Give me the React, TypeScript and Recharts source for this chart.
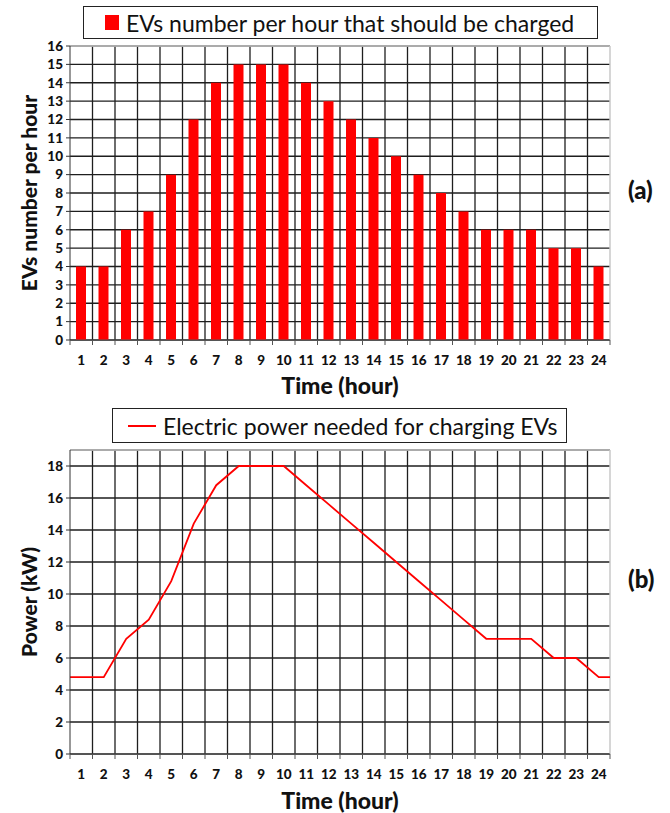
import React from "react";
import {
  BarChart,
  Bar,
  LineChart,
  Line,
  XAxis,
  YAxis,
  CartesianGrid,
  ReferenceLine,
} from "recharts";

// hour of the day (category axis)
const hours = [
  1, 2, 3, 4, 5, 6, 7, 8, 9, 10, 11, 12, 13, 14, 15, 16, 17, 18, 19, 20, 21,
  22, 23, 24,
];
// (a) EVs to be charged per hour
const evCount = [
  4, 4, 6, 7, 9, 12, 14, 15, 15, 15, 14, 13, 12, 11, 10, 9, 8, 7, 6, 6, 6, 5,
  5, 4,
];
// (b) power line, runs edge to edge of the plot
const powerHours = [
  0.5, 1, 2, 3, 4, 5, 6, 7, 8, 9, 10, 11, 12, 13, 14, 15, 16, 17, 18, 19, 20,
  21, 22, 23, 24, 24.5,
];
const powerKW = [
  4.8, 4.8, 4.8, 7.2, 8.4, 10.8, 14.4, 16.8, 18, 18, 18, 16.8, 15.6, 14.4,
  13.2, 12, 10.8, 9.6, 8.4, 7.2, 7.2, 7.2, 6, 6, 4.8, 4.8,
];
const evTicks = [0, 1, 2, 3, 4, 5, 6, 7, 8, 9, 10, 11, 12, 13, 14, 15, 16];
const powerTicks = [0, 2, 4, 6, 8, 10, 12, 14, 16, 18];

const FONT = "Lato, 'Liberation Sans', sans-serif";
const GRID = "#1e1e1e";
const EDGE = "#c8c8c8";

const evRows = hours.map((h, i) => ({ hour: h, ev: evCount[i] }));
const powerRows = powerHours.map((h, i) => ({ hour: h, kw: powerKW[i] }));

// labels on whole hours, tick marks on the boundaries between hours
const xTicks = hours.flatMap((h) => [h - 0.5, h]).concat(hours[hours.length - 1] + 0.5);
const boundaries = hours.slice(0, -1).map((h) => h + 0.5);

const HourTick = (props: any) => {
  const { x, y, payload } = props;
  const v = payload.value;
  if (Number.isInteger(v)) {
    return (
      <text
        x={x}
        y={y + 25}
        textAnchor="middle"
        fontFamily={FONT}
        fontWeight={900}
        fontSize={13.5}
        fill="#111"
      >
        {v}
      </text>
    );
  }
  return <line x1={x} x2={x} y1={y} y2={y + 5} stroke="#555" />;
};

const YTitle = (props: any) => {
  const { viewBox, text } = props;
  const cx = viewBox.x + 28;
  const cy = viewBox.y + viewBox.height / 2;
  return (
    <text
      x={cx}
      y={cy}
      transform={`rotate(-90 ${cx} ${cy})`}
      textAnchor="middle"
      dominantBaseline="central"
      fontFamily={FONT}
      fontWeight={900}
      fontSize={21}
      fill="#111"
    >
      {text}
    </text>
  );
};

const yTick = { fill: "#111", fontSize: 13.5, fontWeight: 900, fontFamily: FONT };
const xTitle = {
  position: "insideBottom" as const,
  offset: 2,
  fill: "#111",
  fontSize: 23,
  fontWeight: 900,
  fontFamily: FONT,
};

const legendBox: React.CSSProperties = {
  position: "absolute",
  border: "1px solid #222",
  boxSizing: "border-box",
  display: "flex",
  alignItems: "center",
  fontFamily: FONT,
  fontSize: 23,
  color: "#111",
  background: "#fff",
  whiteSpace: "nowrap",
};

const panelTag: React.CSSProperties = {
  position: "absolute",
  left: 628,
  fontFamily: FONT,
  fontWeight: 900,
  fontSize: 24,
  color: "#111",
};

export default function App() {
  return (
    <div
      style={{
        position: "absolute",
        left: 0,
        top: 0,
        width: 670,
        height: 813,
        background: "#fff",
        overflow: "hidden",
      }}
    >
      <div style={{ position: "absolute", left: 0, top: 0 }}>
        <BarChart
          width={670}
          height={400}
          data={evRows}
          margin={{ top: 46, right: 60, left: 0, bottom: 4 }}
        >
          <CartesianGrid vertical={false} stroke={GRID} strokeWidth={1.3} />
          {boundaries.map((b) => (
            <ReferenceLine key={b} x={b} stroke={GRID} strokeWidth={1.3} />
          ))}
          <ReferenceLine y={16} stroke={EDGE} strokeWidth={1.5} />
          <ReferenceLine x={24.5} stroke={EDGE} strokeWidth={1.5} />
          <XAxis
            dataKey="hour"
            type="number"
            domain={[0.5, 24.5]}
            ticks={xTicks}
            interval={0}
            tick={<HourTick />}
            tickLine={false}
            tickSize={0}
            tickMargin={0}
            axisLine={{ stroke: "#555" }}
            height={56}
            label={{ value: "Time (hour)", ...xTitle }}
          />
          <YAxis
            domain={[0, 16]}
            ticks={evTicks}
            interval={0}
            width={70}
            tick={yTick}
            tickSize={4}
            tickMargin={3}
            tickLine={{ stroke: "#333" }}
            axisLine={{ stroke: "#333" }}
            label={{ content: (p: any) => <YTitle viewBox={p.viewBox} text="EVs number per hour" /> }}
          />
          <Bar dataKey="ev" fill="#ff0000" barSize={10} isAnimationActive={false} />
        </BarChart>
      </div>

      <div style={{ position: "absolute", left: 0, top: 400 }}>
        <LineChart
          width={670}
          height={413}
          data={powerRows}
          margin={{ top: 50, right: 60, left: 0, bottom: 2 }}
        >
          <CartesianGrid vertical={false} stroke={GRID} strokeWidth={1.3} />
          {boundaries.map((b) => (
            <ReferenceLine key={b} x={b} stroke={GRID} strokeWidth={1.3} />
          ))}
          <ReferenceLine y={19} stroke={EDGE} strokeWidth={1.5} />
          <ReferenceLine x={24.5} stroke={EDGE} strokeWidth={1.5} />
          <XAxis
            dataKey="hour"
            type="number"
            domain={[0.5, 24.5]}
            ticks={xTicks}
            interval={0}
            tick={<HourTick />}
            tickLine={false}
            tickSize={0}
            tickMargin={0}
            axisLine={{ stroke: "#555" }}
            height={57}
            label={{ value: "Time (hour)", ...xTitle }}
          />
          <YAxis
            domain={[0, 19]}
            ticks={powerTicks}
            interval={0}
            width={70}
            tick={yTick}
            tickSize={4}
            tickMargin={3}
            tickLine={{ stroke: "#333" }}
            axisLine={{ stroke: "#333" }}
            label={{ content: (p: any) => <YTitle viewBox={p.viewBox} text="Power (kW)" /> }}
          />
          <Line
            dataKey="kw"
            type="linear"
            stroke="#ff0000"
            strokeWidth={1.8}
            dot={false}
            isAnimationActive={false}
          />
        </LineChart>
      </div>

      <div style={{ ...legendBox, left: 83, top: 6, width: 515, height: 33 }}>
        <span
          style={{
            display: "inline-block",
            width: 14,
            height: 15,
            background: "#ff0000",
            marginLeft: 21,
            marginRight: 7,
          }}
        />
        <span>EVs number per hour that should be charged</span>
      </div>
      <div style={{ ...legendBox, left: 112, top: 408, width: 455, height: 35 }}>
        <span
          style={{
            display: "inline-block",
            width: 28,
            height: 2,
            background: "#ff0000",
            marginLeft: 15,
            marginRight: 7,
          }}
        />
        <span>Electric power needed for charging EVs</span>
      </div>

      <div style={{ ...panelTag, top: 175 }}>(a)</div>
      <div style={{ ...panelTag, top: 564 }}>(b)</div>
    </div>
  );
}
